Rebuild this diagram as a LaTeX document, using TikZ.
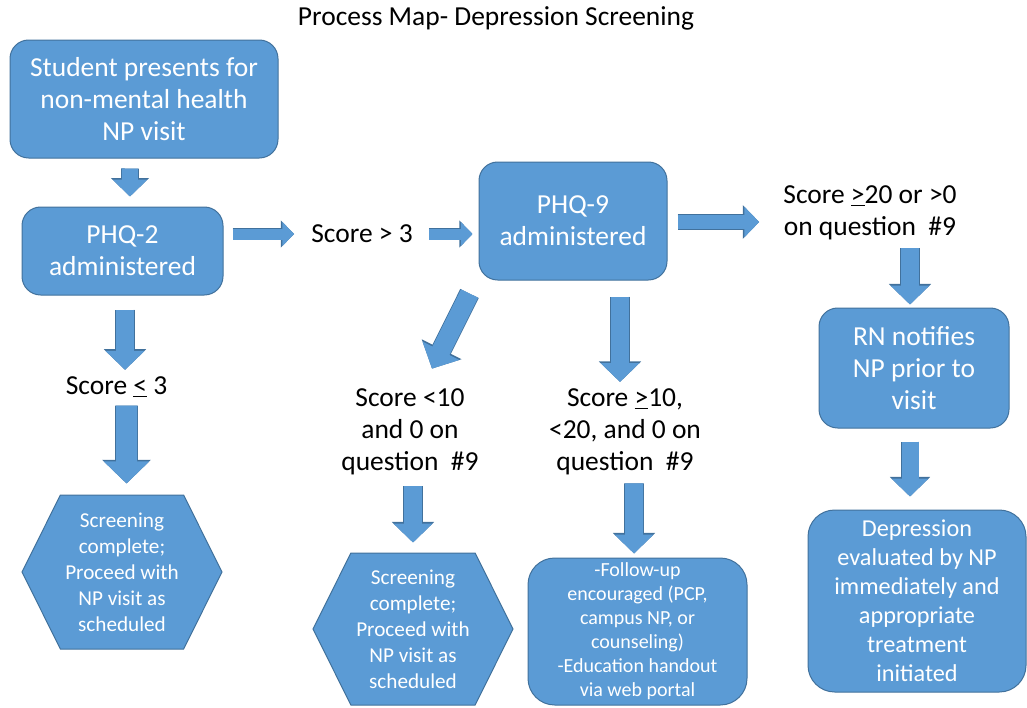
\documentclass[tikz,border=0pt]{standalone}
\usepackage{fontspec}
\setmainfont{Carlito}
\usepackage{xcolor}
\usepackage{tikz}
\usetikzlibrary{arrows.meta,positioning,shapes.symbols,calc}

\definecolor{boxblue}{HTML}{5B9BD5}
\definecolor{boxline}{HTML}{41719C}

\begin{document}
\begin{tikzpicture}[
  x=0.75pt, y=-0.75pt,
  box/.style={draw=boxline, line width=0.75pt, fill=boxblue, rounded corners=14pt,
    align=center, text=white, inner sep=0pt, font=\fontsize{20.6}{24}\selectfont},
  hexbox/.style={draw=boxline, line width=0.75pt, fill=boxblue, signal,
    signal to=west and east, signal pointer angle=127, align=center, text=white,
    inner sep=0pt, minimum width=150pt, minimum height=115.5pt,
    font=\fontsize{15.9}{19.5}\selectfont},
  cond/.style={align=center, inner sep=0pt, font=\fontsize{20.6}{24}\selectfont},
  barrow/.style={draw=boxblue, line width=#1,
    -{Triangle[width=0pt 2.1, length=0pt 1.05]},
    preaction={draw=boxline, line width=#1+1.2pt}}
]
\useasboundingbox (0,0) rectangle (1027,707);

\node[font=\fontsize{20.6}{24}\selectfont] (title) at (496,18) {Process Map- Depression Screening};

% top row
\node[box, minimum width=201pt, minimum height=88.5pt] (student) at (144,99)
  {Student presents for\\non-mental health\\NP visit};
\node[box, minimum width=150.75pt, minimum height=66pt] (phq2) at (122.5,251)
  {PHQ-2\\administered};
\node[cond] (gt3) at (362,234) {Score > 3};
\node[box, minimum width=141pt, minimum height=88.5pt] (phq9) at (573,221)
  {PHQ-9\\administered};
\node[cond] (high) at (870,213) {Score \underline{>}20 or >0\\on question \ \#9};
\node[box, minimum width=142.5pt, minimum height=90pt] (rn) at (914,368)
  {RN notifies\\NP prior to\\visit};
\node[box, rounded corners=20pt, minimum width=163.5pt, minimum height=136.5pt,
  font=\fontsize{18.2}{21.75}\selectfont] (eval) at (917,601)
  {Depression\\evaluated by NP\\immediately and\\appropriate\\treatment\\initiated};

% lower branches
\node[cond] (le3) at (116.5,387) {Score \underline{<} 3};
\node[hexbox] (done1) at (122,572)
  {Screening\\complete;\\Proceed with\\NP visit as\\scheduled};
\node[cond] (low) at (410,432) {Score <10\\and 0 on\\question \ \#9};
\node[hexbox, minimum height=114pt] (done2) at (413,629)
  {Screening\\complete;\\Proceed with\\NP visit as\\scheduled};
\node[cond] (mid) at (625,432) {Score \underline{>}10,\\<20, and 0 on\\question \ \#9};
\node[box, rounded corners=20pt, minimum width=164.25pt, minimum height=110.25pt,
  font=\fontsize{15}{18}\selectfont] (follow) at (637.5,631.5)
  {-Follow-up\\encouraged (PCP,\\campus NP, or\\counseling)\\-Education handout\\via web portal};

% block arrows
\draw[barrow=12pt, shorten <=7.5pt, shorten >=7.5pt]
  ([xshift=-10.5pt]student.south) -- ([xshift=5.6pt]phq2.north);
\draw[barrow=8.25pt, shorten <=6.75pt, shorten >=12.75pt]
  ([yshift=12.75pt]phq2.east) -- (gt3.west);
\draw[barrow=8.25pt, shorten <=12pt, shorten >=4.5pt]
  (gt3.east) -- ([yshift=-9.75pt]phq9.west);
\draw[barrow=10.5pt, shorten <=7.5pt, shorten >=18pt]
  ([yshift=-0.75pt]phq9.east) -- ([yshift=-6.75pt]high.west);
\draw[barrow=13.5pt, shorten <=6pt, shorten >=2.25pt]
  ([xshift=30pt]high.south) -- ([xshift=-3pt]rn.north);
\draw[barrow=12.75pt, shorten <=9.75pt, shorten >=9.75pt]
  ([xshift=-3pt]rn.south) -- ([xshift=-5.25pt]eval.north);
\draw[barrow=13.5pt, shorten <=10.5pt, shorten >=5pt]
  ([xshift=1.9pt]phq2.south) -- ([xshift=6.4pt]le3.north);
\draw[barrow=15.75pt, shorten <=6pt, shorten >=8.25pt]
  ([xshift=7.5pt]le3.south) -- ([xshift=3.4pt]done1.north);
\draw[barrow=14.25pt]
  ([xshift=-6.75pt,yshift=-9.75pt]phq9.south west) -- ([xshift=16.5pt,yshift=15pt]low.north);
\draw[barrow=13.5pt, shorten <=12pt, shorten >=5pt]
  ([xshift=35.25pt]phq9.south) -- ([xshift=-3.75pt]mid.north);
\draw[barrow=13.5pt, shorten <=8pt, shorten >=7.5pt]
  ([xshift=2.25pt]low.south) -- (done2.north);
\draw[barrow=13.5pt, shorten <=6pt, shorten >=3pt]
  ([xshift=6.75pt]mid.south) -- ([xshift=-2.6pt]follow.north);
\end{tikzpicture}
\end{document}
